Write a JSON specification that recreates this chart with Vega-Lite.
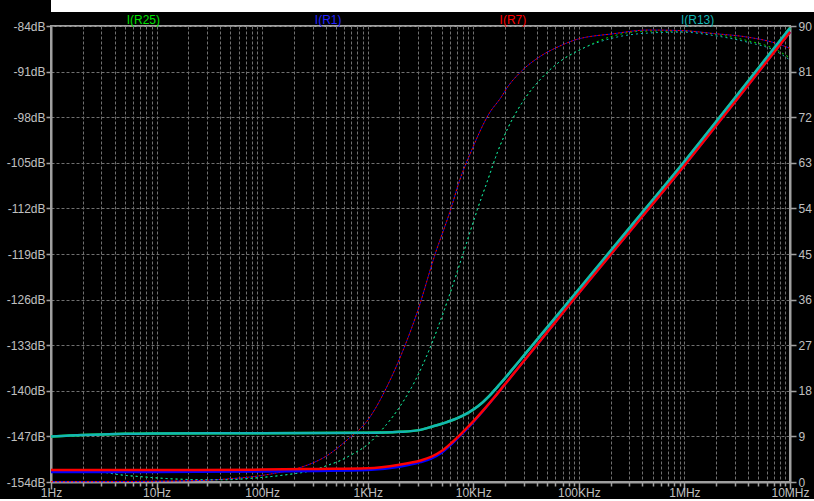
{
  "$schema": "https://vega.github.io/schema/vega-lite/v6.json",
  "padding": 0,
  "spacing": 0,
  "columns": 1,
  "align": "none",
  "bounds": "full",
  "background": "black",
  "config": {
    "view": {"stroke": "#a0a0a0", "strokeWidth": 2, "fill": "black"},
    "axis": {
      "labelFont": "Liberation Sans",
      "labelFontSize": 12,
      "labelColor": "#c0c0c0",
      "tickColor": "#a0a0a0",
      "tickWidth": 1.5,
      "domainColor": "#a0a0a0",
      "domainWidth": 2,
      "gridColor": "#707070",
      "gridDash": [3, 2],
      "gridWidth": 1,
      "gridOpacity": 1,
      "title": null
    }
  },
  "datasets": {
    "mag": [
      {"s": "R13", "f": 1, "db": -147.0}, {"s": "R13", "f": 1.5, "db": -146.85}, {"s": "R13", "f": 2, "db": -146.8}, {"s": "R13", "f": 3, "db": -146.7}, {"s": "R13", "f": 5, "db": -146.6}, {"s": "R13", "f": 10, "db": -146.55}, {"s": "R13", "f": 100, "db": -146.5}, {"s": "R13", "f": 1000, "db": -146.45}, {"s": "R13", "f": 2000, "db": -146.3}, {"s": "R13", "f": 3162, "db": -146.0}, {"s": "R13", "f": 4169, "db": -145.45}, {"s": "R13", "f": 5623, "db": -144.8}, {"s": "R13", "f": 7079, "db": -144.2}, {"s": "R13", "f": 8913, "db": -143.4}, {"s": "R13", "f": 11220, "db": -142.3}, {"s": "R13", "f": 14125, "db": -140.8}, {"s": "R13", "f": 17783, "db": -139.0}, {"s": "R13", "f": 22387, "db": -137.1}, {"s": "R13", "f": 28184, "db": -135.15}, {"s": "R13", "f": 35481, "db": -133.2}, {"s": "R13", "f": 56234, "db": -129.3}, {"s": "R13", "f": 100000, "db": -124.4}, {"s": "R13", "f": 316200, "db": -114.6}, {"s": "R13", "f": 1000000, "db": -104.8}, {"s": "R13", "f": 3162000, "db": -94.6}, {"s": "R13", "f": 10000000, "db": -84.3},
      {"s": "R25", "f": 1, "db": -147.0}, {"s": "R25", "f": 1.5, "db": -146.85}, {"s": "R25", "f": 2, "db": -146.8}, {"s": "R25", "f": 3, "db": -146.7}, {"s": "R25", "f": 5, "db": -146.6}, {"s": "R25", "f": 10, "db": -146.55}, {"s": "R25", "f": 100, "db": -146.5}, {"s": "R25", "f": 1000, "db": -146.45}, {"s": "R25", "f": 2000, "db": -146.3}, {"s": "R25", "f": 3162, "db": -146.0}, {"s": "R25", "f": 4169, "db": -145.45}, {"s": "R25", "f": 5623, "db": -144.8}, {"s": "R25", "f": 7079, "db": -144.2}, {"s": "R25", "f": 8913, "db": -143.4}, {"s": "R25", "f": 11220, "db": -142.3}, {"s": "R25", "f": 14125, "db": -140.8}, {"s": "R25", "f": 17783, "db": -139.0}, {"s": "R25", "f": 22387, "db": -137.1}, {"s": "R25", "f": 28184, "db": -135.15}, {"s": "R25", "f": 35481, "db": -133.2}, {"s": "R25", "f": 56234, "db": -129.3}, {"s": "R25", "f": 100000, "db": -124.4}, {"s": "R25", "f": 316200, "db": -114.6}, {"s": "R25", "f": 1000000, "db": -104.8}, {"s": "R25", "f": 3162000, "db": -94.6}, {"s": "R25", "f": 10000000, "db": -84.3},
      {"s": "R7", "f": 1, "db": -152.15}, {"s": "R7", "f": 10, "db": -152.15}, {"s": "R7", "f": 100, "db": -152.1}, {"s": "R7", "f": 316, "db": -152.0}, {"s": "R7", "f": 1000, "db": -151.9}, {"s": "R7", "f": 1995, "db": -151.35}, {"s": "R7", "f": 3162, "db": -150.7}, {"s": "R7", "f": 3981, "db": -150.15}, {"s": "R7", "f": 5012, "db": -149.25}, {"s": "R7", "f": 6310, "db": -147.9}, {"s": "R7", "f": 7943, "db": -146.35}, {"s": "R7", "f": 10000, "db": -144.7}, {"s": "R7", "f": 12589, "db": -142.9}, {"s": "R7", "f": 15849, "db": -141.0}, {"s": "R7", "f": 19953, "db": -139.0}, {"s": "R7", "f": 25119, "db": -137.0}, {"s": "R7", "f": 31623, "db": -135.0}, {"s": "R7", "f": 56234, "db": -130.0}, {"s": "R7", "f": 100000, "db": -125.0}, {"s": "R7", "f": 316200, "db": -115.2}, {"s": "R7", "f": 1000000, "db": -105.4}, {"s": "R7", "f": 3162000, "db": -95.2}, {"s": "R7", "f": 10000000, "db": -84.9},
      {"s": "R1", "f": 1, "db": -152.45}, {"s": "R1", "f": 10, "db": -152.45}, {"s": "R1", "f": 100, "db": -152.4}, {"s": "R1", "f": 316, "db": -152.3}, {"s": "R1", "f": 1000, "db": -152.15}, {"s": "R1", "f": 1995, "db": -151.65}, {"s": "R1", "f": 3162, "db": -150.95}, {"s": "R1", "f": 3981, "db": -150.4}, {"s": "R1", "f": 5012, "db": -149.5}, {"s": "R1", "f": 6310, "db": -148.1}, {"s": "R1", "f": 7943, "db": -146.5}, {"s": "R1", "f": 10000, "db": -144.8}, {"s": "R1", "f": 12589, "db": -142.95}, {"s": "R1", "f": 15849, "db": -141.0}, {"s": "R1", "f": 19953, "db": -139.0}, {"s": "R1", "f": 25119, "db": -137.0}, {"s": "R1", "f": 31623, "db": -135.0}, {"s": "R1", "f": 56234, "db": -130.0}, {"s": "R1", "f": 100000, "db": -125.0}, {"s": "R1", "f": 316200, "db": -115.2}, {"s": "R1", "f": 1000000, "db": -105.4}, {"s": "R1", "f": 3162000, "db": -95.2}, {"s": "R1", "f": 10000000, "db": -84.9}
    ],
    "ph": [
      {"s": "R7", "f": 1, "deg": 0.06}, {"s": "R7", "f": 3, "deg": 0.07}, {"s": "R7", "f": 10, "deg": 0.15}, {"s": "R7", "f": 26, "deg": 0.3}, {"s": "R7", "f": 54, "deg": 0.7}, {"s": "R7", "f": 78, "deg": 1.0}, {"s": "R7", "f": 130, "deg": 1.7}, {"s": "R7", "f": 217, "deg": 2.7}, {"s": "R7", "f": 418, "deg": 5.3}, {"s": "R7", "f": 646, "deg": 8.4}, {"s": "R7", "f": 1000, "deg": 12.2}, {"s": "R7", "f": 1603, "deg": 19.8}, {"s": "R7", "f": 2143, "deg": 25.8}, {"s": "R7", "f": 3000, "deg": 34.0}, {"s": "R7", "f": 4276, "deg": 44.5}, {"s": "R7", "f": 6152, "deg": 54.0}, {"s": "R7", "f": 7390, "deg": 59.4}, {"s": "R7", "f": 9661, "deg": 65.5}, {"s": "R7", "f": 14200, "deg": 72.8}, {"s": "R7", "f": 18300, "deg": 75.9}, {"s": "R7", "f": 21200, "deg": 78.0}, {"s": "R7", "f": 28300, "deg": 81.0}, {"s": "R7", "f": 43800, "deg": 84.1}, {"s": "R7", "f": 65300, "deg": 86.0}, {"s": "R7", "f": 90600, "deg": 87.2}, {"s": "R7", "f": 217000, "deg": 88.5}, {"s": "R7", "f": 449000, "deg": 89.2}, {"s": "R7", "f": 929000, "deg": 89.1}, {"s": "R7", "f": 1919000, "deg": 88.5}, {"s": "R7", "f": 3972000, "deg": 87.8}, {"s": "R7", "f": 7096000, "deg": 86.7}, {"s": "R7", "f": 10000000, "deg": 85.6},
      {"s": "R1", "f": 1, "deg": 0.06}, {"s": "R1", "f": 3, "deg": 0.07}, {"s": "R1", "f": 10, "deg": 0.15}, {"s": "R1", "f": 26, "deg": 0.3}, {"s": "R1", "f": 54, "deg": 0.7}, {"s": "R1", "f": 78, "deg": 1.0}, {"s": "R1", "f": 130, "deg": 1.7}, {"s": "R1", "f": 217, "deg": 2.7}, {"s": "R1", "f": 418, "deg": 5.3}, {"s": "R1", "f": 646, "deg": 8.4}, {"s": "R1", "f": 1000, "deg": 12.2}, {"s": "R1", "f": 1603, "deg": 19.8}, {"s": "R1", "f": 2143, "deg": 25.8}, {"s": "R1", "f": 3000, "deg": 34.0}, {"s": "R1", "f": 4276, "deg": 44.5}, {"s": "R1", "f": 6152, "deg": 54.0}, {"s": "R1", "f": 7390, "deg": 59.4}, {"s": "R1", "f": 9661, "deg": 65.5}, {"s": "R1", "f": 14200, "deg": 72.8}, {"s": "R1", "f": 18300, "deg": 75.9}, {"s": "R1", "f": 21200, "deg": 78.0}, {"s": "R1", "f": 28300, "deg": 81.0}, {"s": "R1", "f": 43800, "deg": 84.1}, {"s": "R1", "f": 65300, "deg": 86.0}, {"s": "R1", "f": 90600, "deg": 87.2}, {"s": "R1", "f": 217000, "deg": 88.5}, {"s": "R1", "f": 449000, "deg": 89.2}, {"s": "R1", "f": 929000, "deg": 89.1}, {"s": "R1", "f": 1919000, "deg": 88.5}, {"s": "R1", "f": 3972000, "deg": 87.8}, {"s": "R1", "f": 7096000, "deg": 86.7}, {"s": "R1", "f": 10000000, "deg": 85.6},
      {"s": "R13", "f": 1, "deg": 2.17}, {"s": "R13", "f": 2.8, "deg": 2.1}, {"s": "R13", "f": 3.44, "deg": 1.8}, {"s": "R13", "f": 4.6, "deg": 1.4}, {"s": "R13", "f": 7.1, "deg": 1.05}, {"s": "R13", "f": 14.7, "deg": 0.6}, {"s": "R13", "f": 30.5, "deg": 0.45}, {"s": "R13", "f": 45, "deg": 0.45}, {"s": "R13", "f": 78, "deg": 0.73}, {"s": "R13", "f": 162, "deg": 1.38}, {"s": "R13", "f": 312, "deg": 2.4}, {"s": "R13", "f": 418, "deg": 3.3}, {"s": "R13", "f": 558, "deg": 4.3}, {"s": "R13", "f": 746, "deg": 5.7}, {"s": "R13", "f": 1000, "deg": 7.4}, {"s": "R13", "f": 1337, "deg": 10.1}, {"s": "R13", "f": 2065, "deg": 15.2}, {"s": "R13", "f": 2864, "deg": 20.3}, {"s": "R13", "f": 3828, "deg": 26.1}, {"s": "R13", "f": 5728, "deg": 35.9}, {"s": "R13", "f": 8222, "deg": 45.8}, {"s": "R13", "f": 11020, "deg": 54.0}, {"s": "R13", "f": 13710, "deg": 59.6}, {"s": "R13", "f": 17020, "deg": 65.2}, {"s": "R13", "f": 21200, "deg": 69.8}, {"s": "R13", "f": 30400, "deg": 75.5}, {"s": "R13", "f": 43800, "deg": 79.6}, {"s": "R13", "f": 65300, "deg": 82.9}, {"s": "R13", "f": 104700, "deg": 85.4}, {"s": "R13", "f": 217000, "deg": 87.7}, {"s": "R13", "f": 449000, "deg": 88.6}, {"s": "R13", "f": 929000, "deg": 88.8}, {"s": "R13", "f": 1919000, "deg": 88.1}, {"s": "R13", "f": 3972000, "deg": 86.8}, {"s": "R13", "f": 7096000, "deg": 85.2}, {"s": "R13", "f": 10000000, "deg": 83.3},
      {"s": "R25", "f": 1, "deg": 2.17}, {"s": "R25", "f": 2.8, "deg": 2.1}, {"s": "R25", "f": 3.44, "deg": 1.8}, {"s": "R25", "f": 4.6, "deg": 1.4}, {"s": "R25", "f": 7.1, "deg": 1.05}, {"s": "R25", "f": 14.7, "deg": 0.6}, {"s": "R25", "f": 30.5, "deg": 0.45}, {"s": "R25", "f": 45, "deg": 0.45}, {"s": "R25", "f": 78, "deg": 0.73}, {"s": "R25", "f": 162, "deg": 1.38}, {"s": "R25", "f": 312, "deg": 2.4}, {"s": "R25", "f": 418, "deg": 3.3}, {"s": "R25", "f": 558, "deg": 4.3}, {"s": "R25", "f": 746, "deg": 5.7}, {"s": "R25", "f": 1000, "deg": 7.4}, {"s": "R25", "f": 1337, "deg": 10.1}, {"s": "R25", "f": 2065, "deg": 15.2}, {"s": "R25", "f": 2864, "deg": 20.3}, {"s": "R25", "f": 3828, "deg": 26.1}, {"s": "R25", "f": 5728, "deg": 35.9}, {"s": "R25", "f": 8222, "deg": 45.8}, {"s": "R25", "f": 11020, "deg": 54.0}, {"s": "R25", "f": 13710, "deg": 59.6}, {"s": "R25", "f": 17020, "deg": 65.2}, {"s": "R25", "f": 21200, "deg": 69.8}, {"s": "R25", "f": 30400, "deg": 75.5}, {"s": "R25", "f": 43800, "deg": 79.6}, {"s": "R25", "f": 65300, "deg": 82.9}, {"s": "R25", "f": 104700, "deg": 85.4}, {"s": "R25", "f": 217000, "deg": 88.1}, {"s": "R25", "f": 449000, "deg": 89.0}, {"s": "R25", "f": 929000, "deg": 89.0}, {"s": "R25", "f": 1919000, "deg": 88.4}, {"s": "R25", "f": 3972000, "deg": 87.1}, {"s": "R25", "f": 7096000, "deg": 85.5}, {"s": "R25", "f": 10000000, "deg": 83.7}
    ]
  },
  "concat": [
    {
      "width": 814,
      "height": 12,
      "view": {"fill": "white", "stroke": null},
      "data": {"values": []},
      "mark": {"type": "point", "opacity": 0},
      "encoding": {}
    },
    {
      "width": 739,
      "height": 456,
      "layer": [
        {
          "data": {"name": "ph"},
          "transform": [{"filter": {"field": "s", "equal": "R25"}}],
          "mark": {"type": "line", "color": "#00e000", "strokeWidth": 1, "strokeDash": [2, 3], "interpolate": "monotone"},
          "encoding": {
            "x": {
              "field": "f", "type": "quantitative",
              "scale": {"type": "log", "domain": [1, 10000000], "nice": false},
              "axis": {
                "values": [1,2,3,4,5,6,7,8,9,10,20,30,40,50,60,70,80,90,100,200,300,400,500,600,700,800,900,1000,2000,3000,4000,5000,6000,7000,8000,9000,10000,20000,30000,40000,50000,60000,70000,80000,90000,100000,200000,300000,400000,500000,600000,700000,800000,900000,1000000,2000000,3000000,4000000,5000000,6000000,7000000,8000000,9000000,10000000],
                "labelExpr": "datum.value == 1 ? '1Hz' : datum.value == 10 ? '10Hz' : datum.value == 100 ? '100Hz' : datum.value == 1000 ? '1KHz' : datum.value == 10000 ? '10KHz' : datum.value == 100000 ? '100KHz' : datum.value == 1000000 ? '1MHz' : datum.value == 10000000 ? '10MHz' : ''",
                "labelOverlap": false,
                "labelFlush": false,
                "labelPadding": -2,
                "grid": true,
                "tickSize": {"condition": {"test": "indexof([1,10,100,1000,10000,100000,1000000,10000000], datum.value) >= 0", "value": 7}, "value": 4}
              }
            },
            "y": {
              "field": "deg", "type": "quantitative",
              "scale": {"domain": [0, 90], "nice": false, "zero": false},
              "axis": {"orient": "right", "values": [0,9,18,27,36,45,54,63,72,81,90], "labelExpr": "'' + datum.value", "grid": false, "tickSize": 6, "labelPadding": 2}
            }
          }
        },
        {
          "data": {"name": "ph"},
          "transform": [{"filter": {"field": "s", "equal": "R1"}}],
          "mark": {"type": "line", "color": "#0000ff", "strokeWidth": 1, "strokeDash": [2, 2], "strokeDashOffset": 2, "interpolate": "monotone"},
          "encoding": {
            "x": {"field": "f", "type": "quantitative", "scale": {"type": "log", "domain": [1, 10000000], "nice": false}, "axis": null},
            "y": {"field": "deg", "type": "quantitative", "scale": {"domain": [0, 90], "nice": false, "zero": false}, "axis": null}
          }
        },
        {
          "data": {"name": "ph"},
          "transform": [{"filter": {"field": "s", "equal": "R7"}}],
          "mark": {"type": "line", "color": "#ff0000", "strokeWidth": 1, "strokeDash": [2, 2], "interpolate": "monotone"},
          "encoding": {
            "x": {"field": "f", "type": "quantitative", "scale": {"type": "log", "domain": [1, 10000000], "nice": false}, "axis": null},
            "y": {"field": "deg", "type": "quantitative", "scale": {"domain": [0, 90], "nice": false, "zero": false}, "axis": null}
          }
        },
        {
          "data": {"name": "ph"},
          "transform": [{"filter": {"field": "s", "equal": "R13"}}],
          "mark": {"type": "line", "color": "#13b5b5", "strokeWidth": 1, "strokeDash": [2, 3], "interpolate": "monotone"},
          "encoding": {
            "x": {"field": "f", "type": "quantitative", "scale": {"type": "log", "domain": [1, 10000000], "nice": false}, "axis": null},
            "y": {"field": "deg", "type": "quantitative", "scale": {"domain": [0, 90], "nice": false, "zero": false}, "axis": null}
          }
        },
        {
          "data": {"name": "mag"},
          "transform": [{"filter": {"field": "s", "equal": "R25"}}],
          "mark": {"type": "line", "color": "#00e000", "strokeWidth": 2.5, "interpolate": "monotone"},
          "encoding": {
            "x": {"field": "f", "type": "quantitative", "scale": {"type": "log", "domain": [1, 10000000], "nice": false}, "axis": null},
            "y": {
              "field": "db", "type": "quantitative",
              "scale": {"domain": [-154, -84], "nice": false, "zero": false},
              "axis": {"orient": "left", "values": [-154,-147,-140,-133,-126,-119,-112,-105,-98,-91,-84], "labelExpr": "datum.value + 'dB'", "grid": true, "tickSize": 5, "labelPadding": 1, "minExtent": 50, "maxExtent": 50}
            }
          }
        },
        {
          "data": {"name": "mag"},
          "transform": [{"filter": {"field": "s", "equal": "R1"}}],
          "mark": {"type": "line", "color": "#0000ff", "strokeWidth": 2.5, "interpolate": "monotone"},
          "encoding": {
            "x": {"field": "f", "type": "quantitative", "scale": {"type": "log", "domain": [1, 10000000], "nice": false}, "axis": null},
            "y": {"field": "db", "type": "quantitative", "scale": {"domain": [-154, -84], "nice": false, "zero": false}, "axis": null}
          }
        },
        {
          "data": {"name": "mag"},
          "transform": [{"filter": {"field": "s", "equal": "R7"}}],
          "mark": {"type": "line", "color": "#ff0000", "strokeWidth": 2.5, "interpolate": "monotone"},
          "encoding": {
            "x": {"field": "f", "type": "quantitative", "scale": {"type": "log", "domain": [1, 10000000], "nice": false}, "axis": null},
            "y": {"field": "db", "type": "quantitative", "scale": {"domain": [-154, -84], "nice": false, "zero": false}, "axis": null}
          }
        },
        {
          "data": {"name": "mag"},
          "transform": [{"filter": {"field": "s", "equal": "R13"}}],
          "mark": {"type": "line", "color": "#13b5b5", "strokeWidth": 2.5, "interpolate": "monotone"},
          "encoding": {
            "x": {"field": "f", "type": "quantitative", "scale": {"type": "log", "domain": [1, 10000000], "nice": false}, "axis": null},
            "y": {"field": "db", "type": "quantitative", "scale": {"domain": [-154, -84], "nice": false, "zero": false}, "axis": null}
          }
        },
        {
          "data": {"values": [{"s": "I(R25)"}, {"s": "I(R1)"}, {"s": "I(R7)"}, {"s": "I(R13)"}]},
          "mark": {"type": "text", "font": "Liberation Sans", "fontSize": 12, "baseline": "middle", "align": "center"},
          "encoding": {
            "x": {"field": "s", "type": "nominal", "scale": {"type": "band", "domain": ["I(R25)", "I(R1)", "I(R7)", "I(R13)"], "paddingInner": 0, "paddingOuter": 0}, "axis": null},
            "y": {"datum": 91.25, "type": "quantitative", "scale": {"domain": [0, 90], "nice": false, "zero": false}, "axis": null},
            "text": {"field": "s"},
            "color": {"field": "s", "type": "nominal", "scale": {"domain": ["I(R25)", "I(R1)", "I(R7)", "I(R13)"], "range": ["#00e000", "#2020ff", "#ff0000", "#13b5b5"]}, "legend": null}
          }
        }
      ],
      "resolve": {"scale": {"x": "independent", "y": "independent"}}
    }
  ]
}
